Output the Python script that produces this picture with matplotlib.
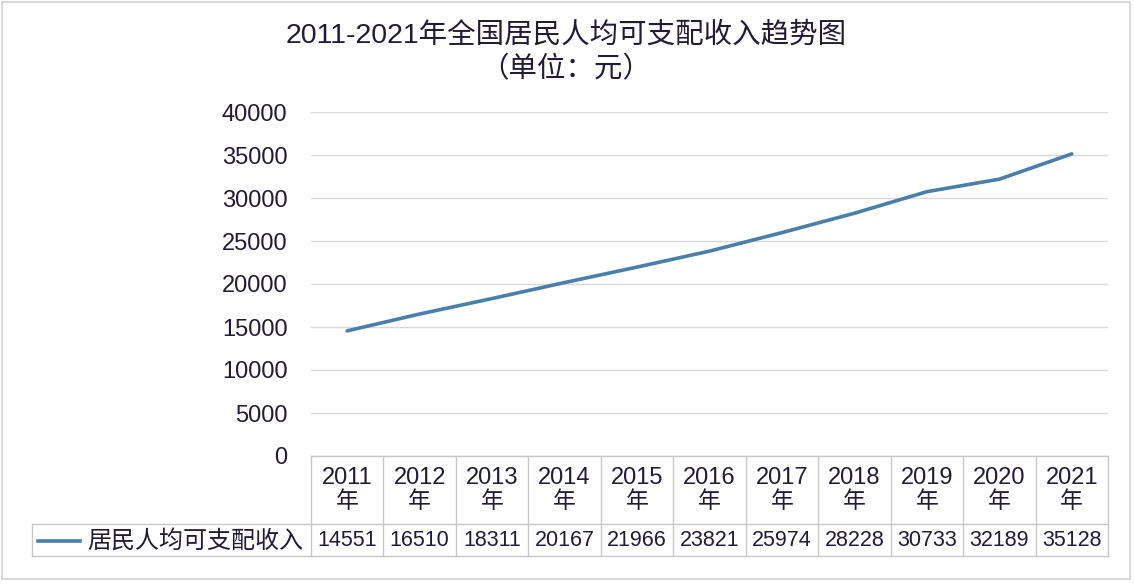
import matplotlib.pyplot as plt
from matplotlib.patches import Rectangle
from matplotlib.transforms import blended_transform_factory

plt.rcParams['font.family'] = ['Liberation Sans', 'Noto Sans CJK SC', 'DejaVu Sans']

years = ['2011', '2012', '2013', '2014', '2015', '2016', '2017', '2018', '2019', '2020', '2021']
income = [14551, 16510, 18311, 20167, 21966, 23821, 25974, 28228, 30733, 32189, 35128]
series_name = '居民人均可支配收入'
yticks = [0, 5000, 10000, 15000, 20000, 25000, 30000, 35000, 40000]

txt = '#231a33'
grid_c = '#d9d9d9'
line_c = '#4a7fab'

W, H = 1134, 586
fig = plt.figure(figsize=(W / 100, H / 100), dpi=100)
fig.patch.set_facecolor('white')

# outer frame
fig.patches.append(Rectangle((2 / W, 7 / H), 1128 / W, 577 / H, transform=fig.transFigure,
                             fill=False, edgecolor='#cfd0d8', lw=1.2))

ax = fig.add_axes([311 / W, (H - 456) / H, 797 / W, 344 / H])
x = list(range(len(years)))
ax.plot(x, income, color=line_c, lw=2.6, solid_capstyle='round')
ax.set_xlim(-0.5, len(years) - 0.5)
ax.set_ylim(0, 40000)
ax.set_yticks(yticks)
ax.set_yticklabels([str(v) for v in yticks], fontsize=17, color=txt)
ax.tick_params(axis='y', length=0, pad=17)
ax.set_xticks([])
ax.grid(axis='y', color=grid_c, lw=1)
ax.set_axisbelow(True)
for s in ['top', 'left', 'right', 'bottom']:
    ax.spines[s].set_visible(False)

fig.text(566 / W, 1 - 35 / H, '2011-2021年全国居民人均可支配收入趋势图', ha='center', va='center',
         fontsize=20.5, color=txt)
fig.text(566 / W, 1 - 70 / H, '（单位：元）', ha='center', va='center', fontsize=20.5, color=txt)

# data table below the plot
tr = blended_transform_factory(ax.transData, ax.transAxes)
px = 344.0
y_top = 0
y_mid = -68 / px
y_bot = -100 / px
n = len(years)
x_leg = -0.5 - (311 - 32) / (797 / n)
tcol = '#c8c8cc'
kw = dict(transform=tr, clip_on=False, color=tcol, lw=1)
ax.plot([-0.5, n - 0.5], [y_top, y_top], **kw)
ax.plot([x_leg, n - 0.5], [y_mid, y_mid], **kw)
ax.plot([x_leg, n - 0.5], [y_bot, y_bot], **kw)
ax.plot([x_leg, x_leg], [y_mid, y_bot], **kw)
for i in range(n + 1):
    ax.plot([i - 0.5, i - 0.5], [y_top, y_bot], **kw)

for i, (yr, v) in enumerate(zip(years, income)):
    ax.text(i, -22 / px, yr, transform=tr, ha='center', va='center', fontsize=17, color=txt)
    ax.text(i, -46 / px, '年', transform=tr, ha='center', va='center', fontsize=16.5, color=txt)
    ax.text(i, -85 / px, str(v), transform=tr, ha='center', va='center', fontsize=15.5, color=txt)

step = 797 / n
ax.plot([x_leg + 6 / step, x_leg + 48 / step], [-85 / px, -85 / px], transform=tr, clip_on=False,
        color=line_c, lw=2.6)
ax.text(x_leg + 55 / step, -85 / px, series_name, transform=tr, ha='left', va='center',
        fontsize=17.3, color=txt)

fig.savefig('out.png', dpi=100)
